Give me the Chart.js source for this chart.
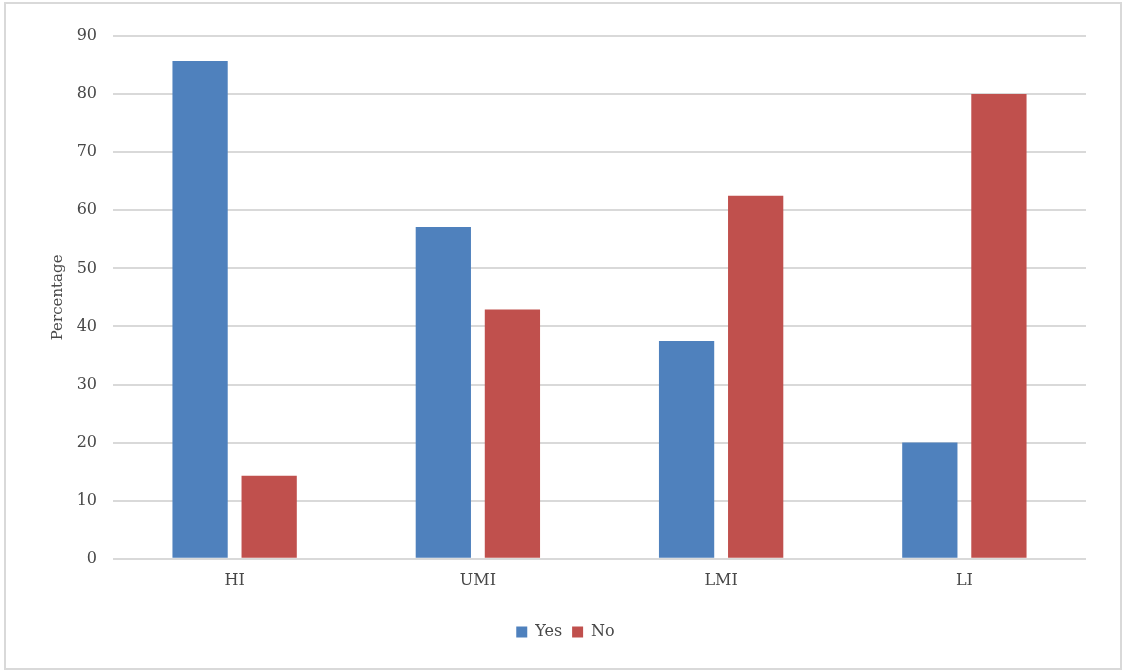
<!DOCTYPE html>
<html><head><meta charset="utf-8">
<script src="https://cdn.jsdelivr.net/npm/chart.js@4"></script>
<style>
html,body{margin:0;padding:0;background:#fff;}
#frame{position:absolute;left:4px;top:2px;width:1114px;height:664px;border:2px solid #d9d9d9;}
#wrap{position:absolute;left:0;top:0;width:1128px;height:670px;}
</style></head>
<body>
<div id="frame"></div>
<div id="wrap"><canvas id="c" width="1128" height="670"></canvas></div>
<script>
const categories = ["HI","UMI","LMI","LI"];
const yesValues = [85.7, 57.1, 37.5, 20.0];
const noValues = [14.3, 42.9, 62.5, 80.0];
const seriesNames = ["Yes","No"];
const yTickMax = 90;
const yTickStep = 10;

const txt = '#484848';
const fontFam = "'DejaVu Serif', serif";
new Chart(document.getElementById('c'), {
  type: 'bar',
  data: {
    labels: categories,
    datasets: [
      {label: seriesNames[0], data: yesValues, backgroundColor: '#4F81BD'},
      {label: seriesNames[1], data: noValues, backgroundColor: '#C0504D'}
    ]
  },
  options: {
    responsive: false,
    animation: false,
    devicePixelRatio: 1,
    layout: {padding: {left: 45, right: 42, top: 36, bottom: 20}},
    datasets: {bar: {categoryPercentage: 0.568, barPercentage: 0.8}},
    plugins: {
      legend: {
        position: 'bottom',
        labels: {color: txt, font: {family: fontFam, size: 16}, boxWidth: 11, boxHeight: 11, padding: 10}
      },
      tooltip: {enabled: false}
    },
    scales: {
      x: {
        afterFit: s => { s.height += 12; },
        grid: {display: false, drawTicks: false},
        border: {display: false},
        ticks: {color: txt, font: {family: fontFam, size: 16}, padding: 12}
      },
      y: {
        min: 0, max: yTickMax,
        afterFit: s => { s.width = 68; },
        grid: {color: '#d9d9d9', lineWidth: 2, drawTicks: false},
        border: {display: false},
        ticks: {stepSize: yTickStep, color: txt, font: {family: fontFam, size: 16}, padding: 16},
        title: {display: true, text: 'Percentage', color: txt, font: {family: fontFam, size: 15}}
      }
    }
  }
});
</script>
</body></html>
